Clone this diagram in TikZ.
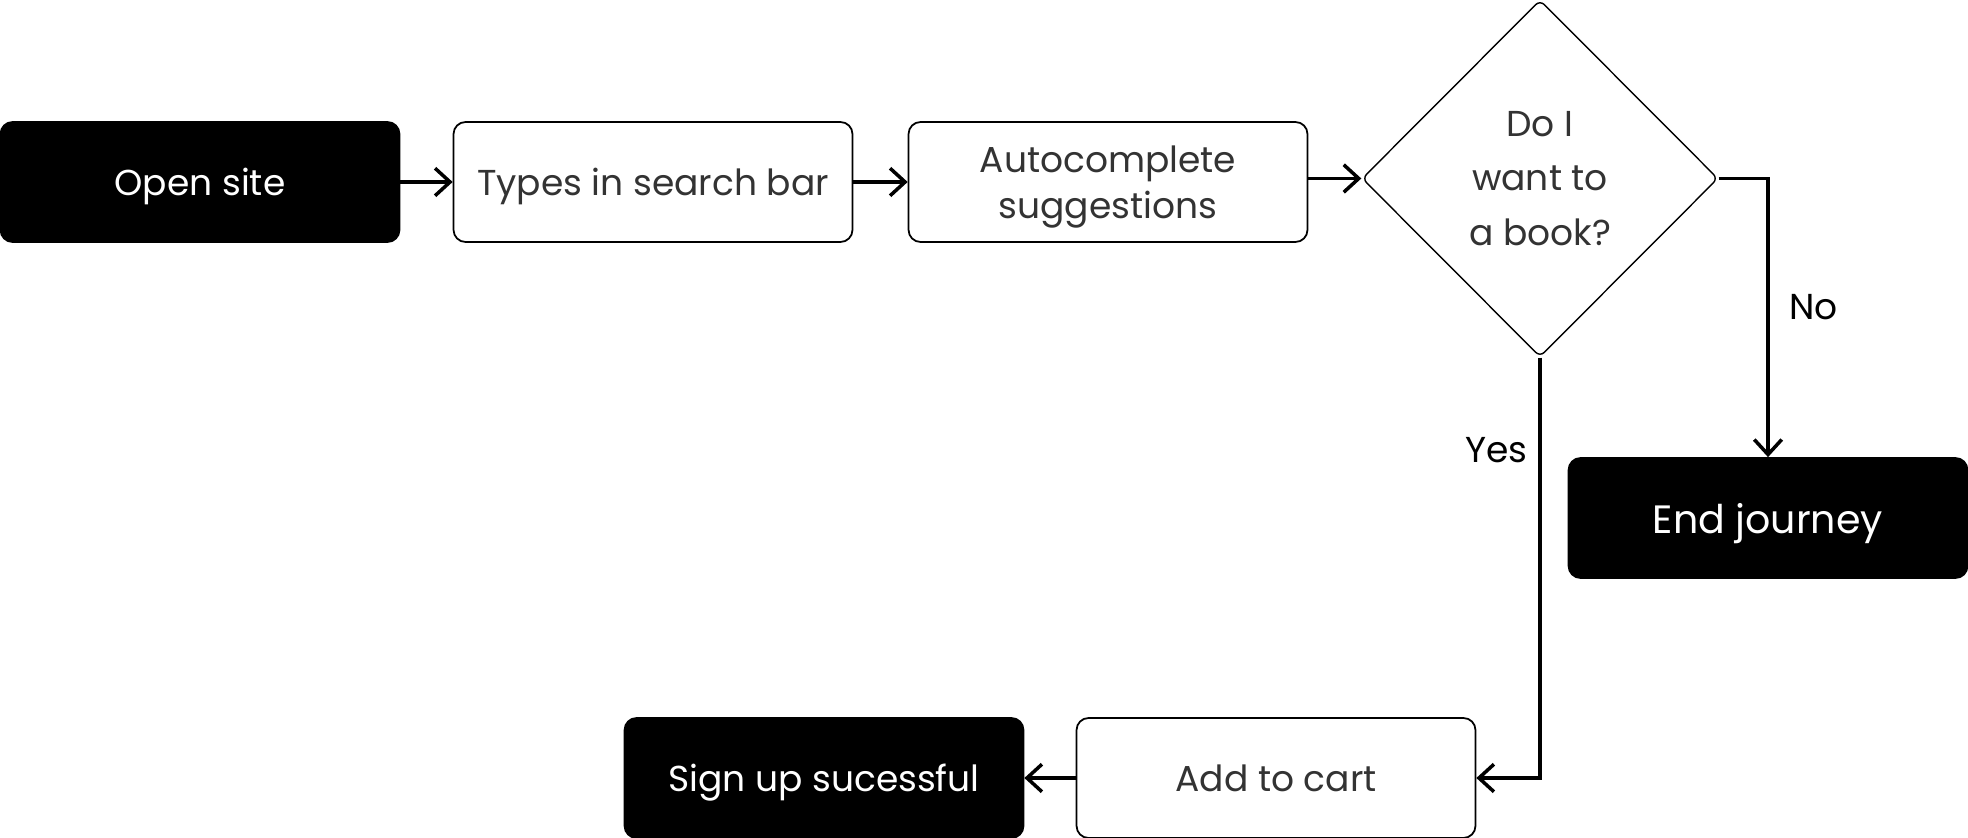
\documentclass[tikz,border=0pt]{standalone}
\usepackage{fontspec}
\setmainfont{Poppins}
\usetikzlibrary{shapes.geometric, arrows.meta}
\definecolor{textgray}{HTML}{333333}

\begin{document}
\begin{tikzpicture}[x=0.02cm, y=0.02cm,
		box/.style={draw, rounded corners=0.24cm, line width=1pt, minimum width=7.98cm, minimum height=2.4cm, inner sep=0pt, text depth=0pt, align=center, text=textgray, font=\fontsize{20.5}{26.5}\selectfont},
		darkbox/.style={box, fill=black, text=white},
		decision/.style={diamond, draw, rounded corners=0.12cm, line width=0.8pt, minimum width=7.12cm, minimum height=7.14cm, inner sep=0pt, align=center, text=textgray, font=\fontsize{20.5}{31}\selectfont},
		flow/.style={line width=2pt, -{Straight Barb[length=0.3cm, width=0.55cm, line width=2pt]}},
		answer/.style={font=\fontsize{20.5}{26}\selectfont, text=black}]
			\useasboundingbox (0, 0) rectangle (1968, 838);
			\node[darkbox] (open) at (200, 656) {Open site};
			\node[box] (search) at (653, 656) {Types in search bar};
			\node[box] (suggest) at (1108, 656) {Autocomplete\\suggestions};
			\node[decision] (want) at (1540, 659.5) {Do I\\want to\\a book?};
			\node[darkbox, font=\fontsize{22.5}{27}\selectfont] (quit) at (1768, 320) {End journey};
			\node[box] (cart) at (1276, 60) {Add to cart};
			\node[darkbox] (signup) at (824, 60) {Sign up sucessful};
			\draw[flow] (open) -- (search);
			\draw[flow] (search) -- (suggest);
			\draw[flow] (suggest.east |- want.west) -- (want.west);
			\draw[flow] (want.east) -| node[answer, pos=0.73, right=0.28cm] {No} (quit.north);
			\draw[flow] (want.south) |- node[answer, pos=0.11, left=0.1cm] {Yes} (cart.east);
			\draw[flow] (cart) -- (signup);
		\end{tikzpicture}
\end{document}
